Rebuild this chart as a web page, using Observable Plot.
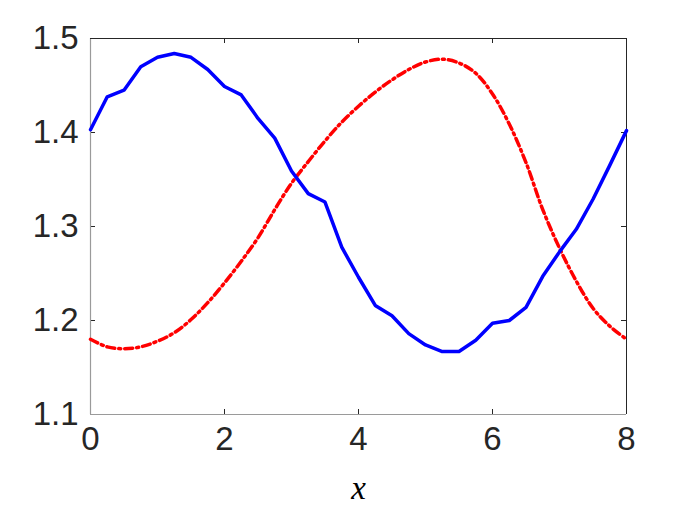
<!DOCTYPE html>
<html>
<head>
<meta charset="utf-8">
<script src="https://cdn.jsdelivr.net/npm/d3@7"></script>
<script src="https://cdn.jsdelivr.net/npm/@observablehq/plot@0.6"></script>
<style>
  html, body { margin: 0; padding: 0; background: #fff; }
  #chart svg { display: block; }
</style>
</head>
<body>
<div id="chart"></div>
<script>
const xs = [0,0.25,0.5,0.75,1,1.25,1.5,1.75,2,2.25,2.5,2.75,3,3.25,3.5,3.75,4,4.25,4.5,4.75,5,5.25,5.5,5.75,6,6.25,6.5,6.75,7,7.25,7.5,7.75,8];
const blueValues = [1.403,1.438,1.445,1.470,1.480,1.484,1.480,1.467,1.449,1.440,1.415,1.394,1.359,1.335,1.326,1.278,1.246,1.216,1.205,1.186,1.174,1.167,1.167,1.179,1.197,1.200,1.214,1.247,1.273,1.297,1.329,1.365,1.402];
const redValues = [1.180,1.172,1.170,1.172,1.178,1.187,1.201,1.219,1.240,1.263,1.288,1.318,1.346,1.369,1.391,1.411,1.428,1.443,1.456,1.467,1.475,1.478,1.474,1.463,1.441,1.409,1.368,1.318,1.277,1.242,1.213,1.194,1.180];
const xTicks = [0,2,4,6,8];
const yTicks = [1.1,1.2,1.3,1.4,1.5];
const xDomain = [0,8];
const yDomain = [1.1,1.5];
const xLabel = "x";

const blue = xs.map((x,i) => ({x, y: blueValues[i]}));
const red = xs.map((x,i) => ({x, y: redValues[i]}));

const W = 692, H = 519, mt = 38, mb = 105, ml = 90, mr = 66;
const innerH = H - mt - mb, innerW = W - ml - mr;
const tick = 5;
const darkC = "#262626", lightC = "#9a9a9a";

const chart = Plot.plot({
  width: W, height: H,
  marginTop: mt, marginBottom: mb, marginLeft: ml, marginRight: mr,
  style: {fontFamily: "'Liberation Sans', Arial, sans-serif", background: "#fff", color: "#262626"},
  x: {domain: xDomain, ticks: xTicks},
  y: {domain: yDomain, ticks: yTicks},
  marks: [
    Plot.axisX(xTicks, {tickSize: 0, tickPadding: 12, fontSize: 33, tickFormat: d3.format("d"), label: null, color: "#262626"}),
    Plot.axisY(yTicks, {tickSize: 0, tickPadding: 12, fontSize: 33, tickFormat: d3.format(".1f"), label: null, color: "#262626"}),
    Plot.ruleX(xTicks, {x: d => d, insetTop: innerH - tick, stroke: darkC, strokeWidth: 1}),
    Plot.ruleX(xTicks, {x: d => d, insetBottom: innerH - tick, stroke: darkC, strokeWidth: 1}),
    Plot.ruleY(yTicks, {y: d => d, insetRight: innerW - tick, stroke: darkC, strokeWidth: 1}),
    Plot.ruleY(yTicks, {y: d => d, insetLeft: innerW - tick, stroke: darkC, strokeWidth: 1}),
    Plot.ruleX([xDomain[0]], {stroke: lightC, strokeWidth: 1.2}),
    Plot.ruleY([yDomain[0]], {stroke: lightC, strokeWidth: 1.2}),
    Plot.ruleX([xDomain[1]], {stroke: darkC, strokeWidth: 1}),
    Plot.ruleY([yDomain[1]], {stroke: darkC, strokeWidth: 1}),
    Plot.line(red, {x: "x", y: "y", stroke: "#ff0000", strokeWidth: 3.5, strokeDasharray: "8,4,2,4", curve: "catmull-rom"}),
    Plot.line(blue, {x: "x", y: "y", stroke: "#0000ff", strokeWidth: 3.5}),
    Plot.text([xLabel], {text: d => d, frameAnchor: "bottom", dy: 84, fontSize: 33, fontStyle: "italic", fontFamily: "'Liberation Serif', 'DejaVu Serif', serif", fill: "#000"})
  ]
});
document.getElementById("chart").appendChild(chart);
</script>
</body>
</html>
